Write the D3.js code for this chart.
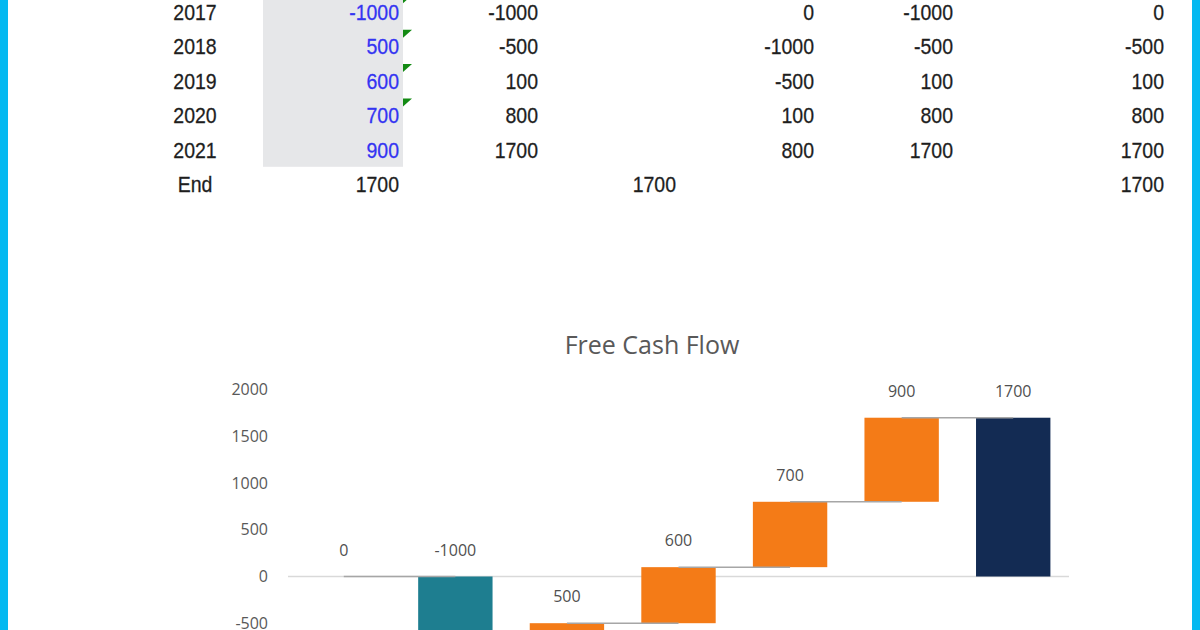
<!DOCTYPE html>
<html>
<head>
<meta charset="utf-8">
<script src="https://cdn.jsdelivr.net/npm/d3@7"></script>
<style>
  html, body { margin: 0; padding: 0; background: #fff; overflow: hidden; }
</style>
</head>
<body>
<div id="vis"></div>
<script>
// --- spreadsheet rows above the chart ---
const rowLabels = ["2017", "2018", "2019", "2020", "2021", "End"];
const colInput = [-1000, 500, 600, 700, 900, 1700];
const colRunning = [-1000, -500, 100, 800, 1700, null];
const colEnd = [null, null, null, null, null, 1700];
const colBase = [0, -1000, -500, 100, 800, null];
const colTop = [-1000, -500, 100, 800, 1700, null];
const colCheck = [0, -500, 100, 800, 1700, 1700];
const flaggedRows = ["2017", "2018", "2019", "2020"];
const shadedRows = ["2017", "2018", "2019", "2020", "2021"];

// --- waterfall chart ---
const steps = ["Start", "2017", "2018", "2019", "2020", "2021", "End"];
const stepLabels = [0, -1000, 500, 600, 700, 900, 1700];
const stepFrom = [0, 0, -1000, -500, 100, 800, 0];
const stepTo = [0, -1000, -500, 100, 800, 1700, 1700];
const stepKind = ["total", "down", "up", "up", "up", "up", "total"];
const yTicks = [-500, 0, 500, 1000, 1500, 2000];

const width = 1200, height = 630;

const svg = d3.select("#vis")
  .append("svg")
  .attr("width", width)
  .attr("height", height)
  .style("display", "block");

// === Table ===
const rowY = d3.scalePoint().domain(rowLabels).range([12, 184]);
const rowH = 34.4;

const cellFont = "'Liberation Sans', Arial, sans-serif";
const table = svg.append("g");

table.append("rect")
  .attr("x", 263)
  .attr("y", rowY(shadedRows[0]) - rowH / 2)
  .attr("width", 140)
  .attr("height", rowY(shadedRows[shadedRows.length - 1]) - rowY(shadedRows[0]) + rowH)
  .attr("fill", "#e6e7e9");

table.selectAll("path.flag")
  .data(flaggedRows)
  .join("path")
  .attr("class", "flag")
  .attr("d", d => {
    const t = rowY(d) - rowH / 2 + 0.5;
    return `M403,${t}L412,${t}L403,${t + 8}Z`;
  })
  .attr("fill", "#138a13");

const columns = [
  { values: rowLabels, x: 195, anchor: "middle", color: "#1e1e1e" },
  { values: colInput, x: 399, anchor: "end", color: "#3434f2", onlyRows: shadedRows },
  { values: colInput, x: 399, anchor: "end", color: "#1e1e1e", onlyRows: ["End"] },
  { values: colRunning, x: 538, anchor: "end", color: "#1e1e1e" },
  { values: colEnd, x: 676, anchor: "end", color: "#1e1e1e" },
  { values: colBase, x: 814, anchor: "end", color: "#1e1e1e" },
  { values: colTop, x: 953, anchor: "end", color: "#1e1e1e" },
  { values: colCheck, x: 1164, anchor: "end", color: "#1e1e1e" }
];

columns.forEach(col => {
  const cells = rowLabels
    .map((r, i) => ({ row: r, v: col.values[i] }))
    .filter(c => c.v !== null && (!col.onlyRows || col.onlyRows.includes(c.row)));
  table.append("g")
    .selectAll("text")
    .data(cells)
    .join("text")
    .attr("transform", d => `translate(${col.x},${rowY(d.row) + 8}) scale(1,1.14)`)
    .attr("text-anchor", col.anchor)
    .attr("font-family", cellFont)
    .attr("font-size", 19.5)
    .attr("fill", col.color)
    .attr("stroke", col.color)
    .attr("stroke-width", 0.25)
    .text(d => d.v);
});

// === Chart ===
const chartFont = "'Open Sans', 'Noto Sans', sans-serif";

const x = d3.scaleBand()
  .domain(steps)
  .range([288, 1069])
  .paddingInner(1 / 3)
  .paddingOuter(1 / 6);

const y = d3.scaleLinear()
  .domain([-1500, 2000])
  .range([576.5 + 3 * 46.7, 576.5 - 4 * 46.7]);

const color = d3.scaleOrdinal()
  .domain(["total", "down", "up"])
  .range(["#132b53", "#1e7e90", "#f47b17"]);

svg.append("text")
  .attr("x", 652)
  .attr("y", 354)
  .attr("text-anchor", "middle")
  .attr("font-family", chartFont)
  .attr("font-size", 25)
  .attr("fill", "#595959")
  .text("Free Cash Flow");

const yAxis = svg.append("g")
  .attr("transform", "translate(268,0)")
  .call(d3.axisLeft(y).tickValues(yTicks).tickFormat(d => String(d)).tickSize(0).tickPadding(0));
yAxis.select(".domain").remove();
yAxis.selectAll("text")
  .attr("font-family", chartFont)
  .attr("font-size", 16)
  .attr("fill", "#595959");

// horizontal axis line at zero
svg.append("line")
  .attr("x1", 288)
  .attr("x2", 1069)
  .attr("y1", y(0))
  .attr("y2", y(0))
  .attr("stroke", "#d9d9d9")
  .attr("stroke-width", 1.5);

const bars = steps.map((s, i) => ({
  step: s, from: stepFrom[i], to: stepTo[i], kind: stepKind[i], label: stepLabels[i]
}));

svg.append("g")
  .selectAll("rect")
  .data(bars)
  .join("rect")
  .attr("x", d => x(d.step))
  .attr("width", x.bandwidth())
  .attr("y", d => y(Math.max(d.from, d.to)))
  .attr("height", d => Math.abs(y(d.from) - y(d.to)))
  .attr("fill", d => color(d.kind));

// connectors between bar centres at running total
svg.append("g")
  .selectAll("line")
  .data(bars.slice(0, -1))
  .join("line")
  .attr("x1", d => x(d.step) + x.bandwidth() / 2)
  .attr("x2", (d, i) => x(steps[i + 1]) + x.bandwidth() / 2)
  .attr("y1", d => y(d.to))
  .attr("y2", d => y(d.to))
  .attr("stroke", "#a6a6a6")
  .attr("stroke-width", 1.5);

svg.append("g")
  .selectAll("text")
  .data(bars)
  .join("text")
  .attr("x", d => x(d.step) + x.bandwidth() / 2)
  .attr("y", d => y(Math.max(d.from, d.to)) - 21)
  .attr("text-anchor", "middle")
  .attr("font-family", chartFont)
  .attr("font-size", 16)
  .attr("fill", "#505050")
  .text(d => d.label);

// frame bands left and right
svg.append("rect").attr("x", 0).attr("y", 0).attr("width", 8).attr("height", height).attr("fill", "#04b9f1");
svg.append("rect").attr("x", 1192).attr("y", 0).attr("width", 8).attr("height", height).attr("fill", "#04b9f1");
</script>
</body>
</html>
